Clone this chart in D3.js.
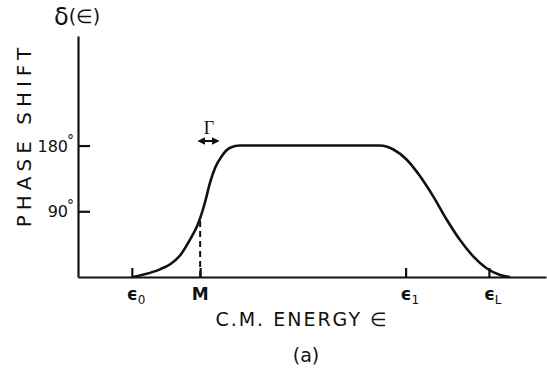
<!DOCTYPE html>
<html lang="en">
<head>
  <meta charset="utf-8">
  <title>Phase shift vs C.M. energy</title>
  <script src="https://cdn.jsdelivr.net/npm/d3@7/dist/d3.min.js"></script>
  <style>
    body { margin: 0; background: #fff; }
    svg { display: block; }
    text { font-family: "DejaVu Sans", sans-serif; fill: #111; }
    .axis path, .axis line { stroke: #111; stroke-width: 2.2px; }
  </style>
</head>
<body>
  <div id="chart"></div>
  <script>
    // energy in arbitrary units, phase in degrees
    const energy = [1.175, 1.6, 1.75, 1.97, 2.18, 2.39, 2.54, 2.61, 2.71, 2.82, 2.93, 3.07, 3.25, 3.46,
                    6.45, 6.74, 7.02, 7.31, 7.59, 7.88, 8.16, 8.45, 8.73, 9.02, 9.23];
    const phase  = [0, 7, 10.5, 17.5, 29.5, 50.9, 69.2, 80.7, 101.3, 128.8, 149.5, 165.4, 177, 180,
                    180, 174.6, 160.9, 137.9, 110.4, 78.4, 50.9, 27.9, 12, 2.75, 0];

    const xTickPos = [1.15, 2.61, 7.0, 8.78];
    const xTickMain = ["ϵ", "M", "ϵ", "ϵ"];
    const xTickSub = ["0", "", "1", "L"];
    const yTickPos = [90, 180];
    const resonanceM = 2.61;
    const phaseAtM = 78;

    const width = 547, height = 371;
    const svg = d3.select("#chart").append("svg")
      .attr("width", width).attr("height", height);

    const x = d3.scaleLinear().domain([0, 10]).range([78, 546]);
    const y = d3.scaleLinear().domain([0, 330]).range([277, 36]);

    // y axis, ticks pointing inward
    svg.append("g").attr("class", "axis")
      .attr("transform", "translate(78,0)")
      .call(d3.axisLeft(y).tickValues(yTickPos).tickSize(-12).tickSizeOuter(0).tickFormat(""));

    const yl = svg.append("g");
    yTickPos.forEach(v => {
      const t = yl.append("text")
        .attr("x", 74).attr("y", y(v) + 6)
        .attr("text-anchor", "end")
        .style("font-size", "16px");
      t.append("tspan").text(v);
      t.append("tspan").attr("dy", -7).attr("dx", -1).style("font-size", "14px").text("°");
    });

    // x axis, ticks pointing upward
    svg.append("g").attr("class", "axis")
      .attr("transform", "translate(0,277)")
      .call(d3.axisBottom(x).tickValues(xTickPos).tickSize(-9).tickSizeOuter(0).tickFormat(""));

    xTickPos.forEach((v, i) => {
      const t = svg.append("text")
        .attr("x", x(v) + (xTickSub[i] ? -5 : 0))
        .attr("y", 300)
        .attr("text-anchor", xTickSub[i] ? "start" : "middle")
        .style("font-size", "17px").style("font-weight", "bold");
      t.append("tspan").text(xTickMain[i]);
      if (xTickSub[i]) t.append("tspan").attr("dy", 4)
        .style("font-size", "12px").style("font-weight", "normal").text(xTickSub[i]);
    });

    // dashed line at M
    svg.append("line")
      .attr("x1", x(resonanceM)).attr("x2", x(resonanceM))
      .attr("y1", y(0)).attr("y2", y(phaseAtM))
      .attr("stroke", "#111").attr("stroke-width", 2)
      .attr("stroke-dasharray", "6,4");

    // phase shift curve
    const pts = energy.map((e, i) => [e, phase[i]]);
    svg.append("path")
      .datum(pts)
      .attr("fill", "none").attr("stroke", "#111").attr("stroke-width", 2.6)
      .attr("d", d3.line().x(d => x(d[0])).y(d => y(d[1])).curve(d3.curveMonotoneX));

    // width marker Γ
    const gx0 = 199, gx1 = 218, gy = 141;
    svg.append("defs").append("marker")
      .attr("id", "ah").attr("viewBox", "0 0 10 10").attr("refX", 8).attr("refY", 5)
      .attr("markerWidth", 4).attr("markerHeight", 4).attr("orient", "auto-start-reverse")
      .append("path").attr("d", "M0,0 L10,5 L0,10 z").attr("fill", "#111");
    svg.append("line")
      .attr("x1", gx0).attr("x2", gx1).attr("y1", gy).attr("y2", gy)
      .attr("stroke", "#111").attr("stroke-width", 2)
      .attr("marker-start", "url(#ah)").attr("marker-end", "url(#ah)");
    svg.append("text").attr("x", 209).attr("y", 134)
      .attr("text-anchor", "middle").style("font-size", "18px")
      .style("font-family", "'Liberation Serif', serif").text("Γ");

    // labels
    const dl = svg.append("text").attr("x", 54).attr("y", 25);
    dl.append("tspan").style("font-size", "24px").text("δ");
    dl.append("tspan").style("font-size", "19px").attr("dy", -2).text("(∈)");

    svg.append("text")
      .attr("transform", "translate(31,135) rotate(-90)")
      .attr("text-anchor", "middle")
      .style("font-size", "20px").style("letter-spacing", "5px")
      .text("PHASE SHIFT");

    svg.append("text").attr("x", 302).attr("y", 326)
      .attr("text-anchor", "middle")
      .style("font-size", "19px").style("letter-spacing", "2px")
      .text("C.M. ENERGY ∈");

    svg.append("text").attr("x", 306).attr("y", 362)
      .attr("text-anchor", "middle")
      .style("font-size", "19px").text("(a)");
  </script>
</body>
</html>
